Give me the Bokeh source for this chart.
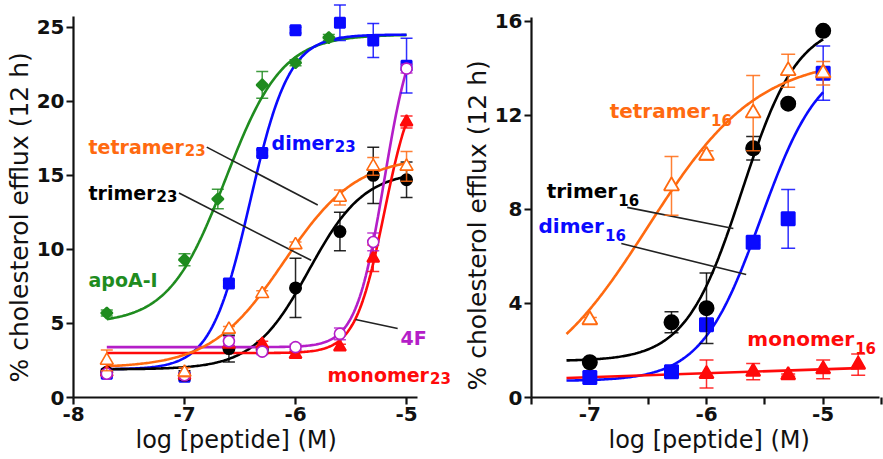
import numpy as np
from bokeh.plotting import figure
from bokeh.layouts import row
from bokeh.models import FixedTicker, Range1d, Label, Title
from bokeh.embed import file_html
from bokeh.resources import INLINE

# ---------------- Left panel data (x = log [peptide] (M); y = % cholesterol efflux; e = error) -------------
L_x = [-7.7, -7.0, -6.6, -6.3, -6.0, -5.6, -5.3, -5.0]
apoA_x = [-7.7, -7.0, -6.7, -6.3, -6.0, -5.7]
apoA_y = [5.7, 9.3, 13.4, 21.1, 22.6, 24.3]
apoA_e = [0.2, 0.4, 0.65, 0.9, 0.2, 0.2]
dimer23_y = [1.6, 1.4, 7.7, 16.5, 24.8, 25.3, 24.1, 22.4]
dimer23_e = [0.2, 0.2, 0.2, 0.2, 0.2, 1.2, 1.15, 1.85]
trimer23_y = [1.7, 1.5, 3.3, 3.2, 7.4, 11.2, 15.0, 14.7]
trimer23_e = [0.2, 0.3, 0.9, 0.2, 2.0, 1.3, 1.9, 1.2]
monomer23_y = [1.7, 1.5, 3.6, 3.6, 2.9, 3.4, 9.4, 18.6]
monomer23_e = [0.1, 0.1, 0.2, 0.2, 0.2, 0.2, 0.9, 0.4]
f4_y = [1.6, 1.5, 3.8, 3.1, 3.4, 4.3, 10.5, 22.2]
f4_e = [0.1, 0.1, 0.3, 0.2, 0.2, 0.4, 0.6, 0.3]
tetramer23_y = [2.5, 1.7, 4.6, 7.0, 10.3, 13.5, 15.6, 15.6]
tetramer23_e = [0.7, 0.3, 0.2, 0.2, 0.2, 0.5, 0.6, 1.0]

# fitted sigmoid (4-parameter) curves, left panel: apoA-I, dimer23, trimer23, monomer23, 4F, tetramer23
L_fit_bottom = [5.0, 1.9, 1.9, 3.0, 3.4, 2.0]
L_fit_top = [24.5, 24.5, 15.3, 22.0, 26.0, 16.3]
L_fit_logec50 = [-6.63, -6.41, -5.879, -5.2, -5.2, -6.106]
L_fit_hill = [1.7, 2.46, 1.74, 3.3, 3.4, 1.32]
L_fit_range = [-7.7, -5.0]

# ---------------- Right panel data ----------------
R_x = [-7.0, -6.3, -6.0, -5.6, -5.3, -5.0]
dimer16_y = [0.85, 1.1, 3.1, 6.6, 7.6, 13.8]
dimer16_e = [0.25, 0.1, 0.1, 0.1, 1.25, 1.15]
mono16_x = [-6.0, -5.6, -5.3, -5.0, -4.7]
mono16_y = [1.0, 1.1, 0.95, 1.2, 1.4]
mono16_e = [0.6, 0.35, 0.05, 0.4, 0.45]
trimer16_y = [1.5, 3.2, 3.8, 10.6, 12.5, 15.6]
trimer16_e = [0.1, 0.45, 1.5, 0.5, 0.1, 0.1]
tetramer16_y = [3.3, 9.0, 10.3, 12.1, 13.9, 13.8]
tetramer16_e = [0.1, 1.25, 0.2, 1.6, 0.7, 0.5]

# fitted curves, right panel: dimer16, trimer16, tetramer16 (sigmoid); monomer16 (straight line)
R_fit_bottom = [0.7, 1.55, 0.0]
R_fit_top = [14.5, 16.0, 14.5]
R_fit_logec50 = [-5.535, -5.697, -6.504]
R_fit_hill = [1.7, 1.8, 0.92]
R_fit_range = [-7.2, -5.0]
mono16_fit_intercept = 2.04
mono16_fit_slope = 0.168
mono16_fit_range = [-7.2, -4.7]

# ---------------- ticks ----------------
L_xticks = [-8, -7, -6, -5]
L_xtick_labels = ["-8", "-7", "-6", "-5"]
L_yticks = [0, 5, 10, 15, 20, 25]
R_xticks = [-7, -6, -5]
R_xtick_labels = ["-7", "-6", "-5"]
R_xminor = [-7.5, -6.5, -5.5, -4.5]
R_yticks = [0, 4, 8, 12, 16]
X_LABEL = "log [peptide] (M)"
Y_LABEL = "% cholesterol efflux (12 h)"

# ---------------- colours ----------------
GREEN = "#1f8c1f"
BLUE = "#0a0aff"
ORANGE = "#ff6a10"
BLACK = "#000000"
MAGENTA = "#b41ec8"
RED = "#ff0a0a"

# ---------------- labels (text, subscript, x, y baseline) ----------------
L_lab_text = ["apoA-I", "dimer", "tetramer", "trimer", "4F", "monomer"]
L_lab_sub = ["", "23", "23", "23", "", "23"]
L_lab_x = [-7.865, -6.216, -7.865, -7.865, -5.054, -5.712]
L_lab_y = [7.9, 17.2, 16.9, 13.8, 4.0, 1.55]
L_lab_col = [GREEN, BLUE, ORANGE, BLACK, MAGENTA, RED]
L_lead_x0 = [-6.80, -7.05, -5.46]
L_lead_y0 = [16.9, 13.8, 5.27]
L_lead_x1 = [-5.80, -5.86, -5.08]
L_lead_y1 = [13.0, 9.26, 4.66]

R_lab_text = ["tetramer", "trimer", "dimer", "monomer"]
R_lab_sub = ["16", "16", "16", "16"]
R_lab_x = [-6.83, -7.37, -7.44, -5.65]
R_lab_y = [12.2, 8.8, 7.3, 2.5]
R_lab_col = [ORANGE, BLACK, BLUE, RED]
R_lead_x0 = [-6.68, -6.73]
R_lead_y0 = [8.09, 6.55]
R_lead_x1 = [-5.77, -5.66]
R_lead_y1 = [7.19, 5.23]

W = {"a": .675, "d": .716, "e": .678, "i": .343, "m": 1.042, "n": .712, "o": .687, "p": .716,
     "r": .493, "t": .478, "A": .774, "I": .372, "F": .683, "-": .416, "4": .696}


def tw(s, size):
    return sum(W.get(c, .6) for c in s) * size


def hill(x, b, t, c, h):
    return b + (t - b) / (1.0 + 10 ** (h * (c - x)))


def series(p, xs, ys, es, color, marker, size, fill, angle=0.0, cap=12, lw=2.0):
    xs = np.asarray(xs, float)
    ys = np.asarray(ys, float)
    es = np.asarray(es, float)
    p.segment(xs, ys - es, xs, ys + es, line_color=color, line_width=1.5, line_alpha=0.85)
    p.scatter(xs, ys + es, marker="dash", size=cap, line_color=color, line_width=1.5, line_alpha=0.85)
    p.scatter(xs, ys - es, marker="dash", size=cap, line_color=color, line_width=1.5, line_alpha=0.85)
    p.scatter(xs, ys, marker=marker, size=size, fill_color=fill, line_color=color,
              line_width=lw, angle=angle)


def labels(p, texts, subs, xs, ys, cols, size, subsize, sub_dy):
    for t, s, x, y, c in zip(texts, subs, xs, ys, cols):
        p.add_layout(Label(x=x, y=y, text=t, text_color=c, text_font="DejaVu Sans",
                           text_font_style="bold", text_font_size=f"{size}px",
                           text_baseline="alphabetic", text_align="left"))
        if s:
            p.add_layout(Label(x=x, y=y, text=s, x_offset=tw(t, size) + 1, y_offset=-sub_dy,
                               text_color=c, text_font="DejaVu Sans", text_font_style="bold",
                               text_font_size=f"{subsize}px", text_baseline="alphabetic",
                               text_align="left"))


def style(p, xbounds, ybounds, xoff, yoff):
    p.toolbar_location = None
    p.outline_line_color = None
    p.xgrid.visible = False
    p.ygrid.visible = False
    p.background_fill_color = "white"
    p.border_fill_color = "white"
    for ax in (p.xaxis[0], p.yaxis[0]):
        ax.axis_label = None
        ax.axis_line_width = 2.2
        ax.axis_line_color = "#111111"
        ax.major_tick_line_width = 2.2
        ax.major_tick_line_color = "#111111"
        ax.major_tick_out = 7
        ax.major_tick_in = 0
        ax.minor_tick_line_width = 2.2
        ax.minor_tick_line_color = "#111111"
        ax.major_label_text_font = "DejaVu Sans"
        ax.major_label_text_font_style = "bold"
        ax.major_label_text_font_size = "20px"
        ax.major_label_text_color = "#111111"
        ax.major_label_standoff = 2
    p.xaxis[0].bounds = tuple(xbounds)
    p.yaxis[0].bounds = tuple(ybounds)
    # axis titles as side titles, so they can be positioned like the original
    p.add_layout(Title(text=X_LABEL, align="left", offset=xoff, standoff=0,
                       text_font="DejaVu Sans", text_font_style="normal",
                       text_font_size="24px", text_color="#111111"), "below")
    p.add_layout(Title(text=Y_LABEL, align="left", offset=yoff, standoff=0,
                       text_font="DejaVu Sans", text_font_style="normal",
                       text_font_size="25px", text_color="#111111"), "left")


# ================= LEFT =================
p1 = figure(width=460, height=458, output_backend="svg", toolbar_location=None,
            x_range=Range1d(-8.0, -4.514), y_range=Range1d(0, 26.8),
            min_border_left=73, min_border_right=0, min_border_top=0, min_border_bottom=61)
style(p1, (-8.0, -4.9), (0, 25.7), 62, 15)
p1.xaxis[0].ticker = FixedTicker(ticks=L_xticks, minor_ticks=[])
p1.xaxis[0].major_label_overrides = dict(zip(L_xticks, L_xtick_labels))
p1.yaxis[0].ticker = FixedTicker(ticks=L_yticks, minor_ticks=[])

L_cols = [GREEN, BLUE, BLACK, RED, MAGENTA, ORANGE]
xc = np.linspace(L_fit_range[0], L_fit_range[1], 200)
for b, t, c, h, col in zip(L_fit_bottom, L_fit_top, L_fit_logec50, L_fit_hill, L_cols):
    p1.line(xc, hill(xc, b, t, c, h), line_color=col, line_width=2.6)

p1.segment(L_lead_x0, L_lead_y0, L_lead_x1, L_lead_y1, line_color="#222222", line_width=1.6)

series(p1, apoA_x, apoA_y, apoA_e, GREEN, "square", 8, GREEN, angle=np.pi / 4)
series(p1, L_x, dimer23_y, dimer23_e, BLUE, "square", 10, BLUE)
series(p1, L_x, trimer23_y, trimer23_e, BLACK, "circle", 11, BLACK)
series(p1, L_x, monomer23_y, monomer23_e, RED, "triangle", 12, RED)
series(p1, L_x, f4_y, f4_e, MAGENTA, "circle", 11, "white", lw=1.6)
series(p1, L_x, tetramer23_y, tetramer23_e, ORANGE, "triangle", 13, "white", lw=1.6)

labels(p1, L_lab_text, L_lab_sub, L_lab_x, L_lab_y, L_lab_col, 19, 15, 3)

# ================= RIGHT =================
p2 = figure(width=423, height=458, output_backend="svg", toolbar_location=None,
            x_range=Range1d(-7.5, -4.483), y_range=Range1d(0, 16.89),
            min_border_left=70, min_border_right=0, min_border_top=0, min_border_bottom=61)
style(p2, (-7.5, -4.52), (0, 16.15), 77, 7)
p2.xaxis[0].ticker = FixedTicker(ticks=R_xticks, minor_ticks=R_xminor)
p2.xaxis[0].major_label_overrides = dict(zip(R_xticks, R_xtick_labels))
p2.xaxis[0].minor_tick_out = 7
p2.xaxis[0].minor_tick_in = 0
p2.yaxis[0].ticker = FixedTicker(ticks=R_yticks, minor_ticks=[])

R_cols = [BLUE, BLACK, ORANGE]
xr = np.linspace(R_fit_range[0], R_fit_range[1], 200)
for b, t, c, h, col in zip(R_fit_bottom, R_fit_top, R_fit_logec50, R_fit_hill, R_cols):
    p2.line(xr, hill(xr, b, t, c, h), line_color=col, line_width=2.6)
xm = np.array(mono16_fit_range)
p2.line(xm, mono16_fit_intercept + mono16_fit_slope * xm, line_color=RED, line_width=2.6)

p2.segment(R_lead_x0, R_lead_y0, R_lead_x1, R_lead_y1, line_color="#222222", line_width=1.6)

series(p2, R_x, dimer16_y, dimer16_e, BLUE, "square", 13, BLUE, cap=14)
series(p2, mono16_x, mono16_y, mono16_e, RED, "triangle", 14, RED, cap=14)
series(p2, R_x, trimer16_y, trimer16_e, BLACK, "circle", 14, BLACK, cap=14)
series(p2, R_x, tetramer16_y, tetramer16_e, ORANGE, "triangle", 15, "white", cap=14, lw=1.8)

labels(p2, R_lab_text, R_lab_sub, R_lab_x, R_lab_y, R_lab_col, 20, 15, 9)

layout = row(p1, p2)
open("out.html", "w").write(file_html(layout, INLINE))
